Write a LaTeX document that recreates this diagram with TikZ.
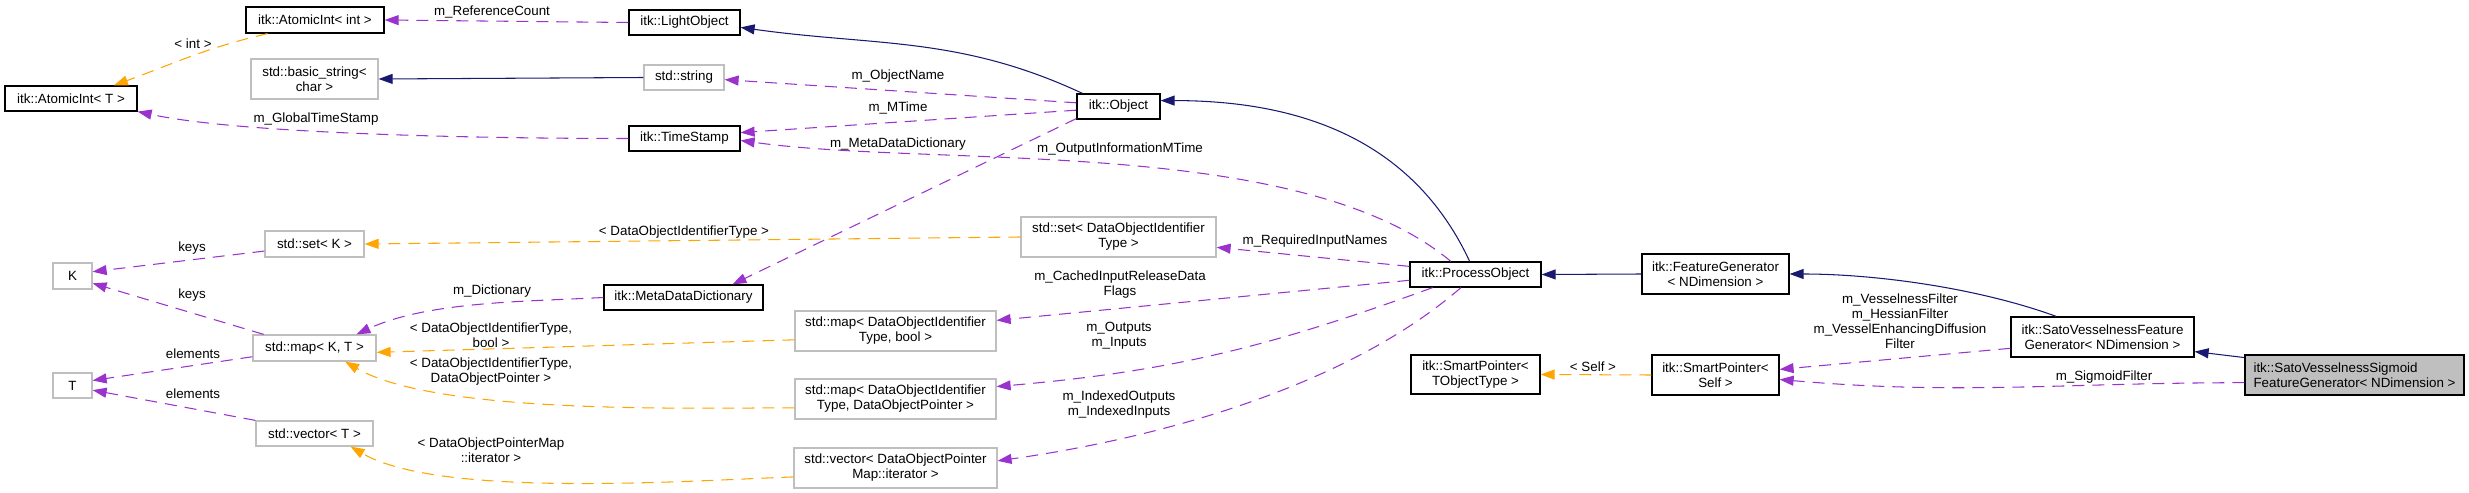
\documentclass[tikz,border=0pt]{standalone}
\usepackage{fontspec}
\setmainfont{Liberation Sans}
\usepackage{tikz}
\usetikzlibrary{
  arrows.meta % Triangle 箭头
}
\definecolor{dxnavy}{HTML}{191970}
\definecolor{dxpurple}{HTML}{9A32CD}
\definecolor{dxorange}{HTML}{FFA500}
\definecolor{dxgray}{HTML}{BFBFBF}
\newcommand{\dxfont}{\fontsize{7.6}{8.5}\selectfont}
\tikzset{
  cls/.style={
    draw=black,
    line width=0.7pt,
    inner sep=0pt,
    align=center,
    font=\dxfont
  },
  extcls/.style={cls, draw=dxgray},
  curcls/.style={cls, fill=dxgray, align=left},
  box/.style 2 args={minimum width=#1*0.2mm, minimum height=#2*0.2mm},
  lbl/.style={inner sep=0pt, align=center, font=\dxfont},
  inherit/.style={
    draw=dxnavy,
    line width=0.6pt,
    -{Triangle[length=2.8mm, width=2mm]}
  },
  member/.style={
    draw=dxpurple,
    line width=0.6pt,
    dash pattern=on 2.4mm off 1.6mm,
    -{Triangle[length=2.8mm, width=2mm]}
  },
  tmpl/.style={
    draw=dxorange,
    line width=0.6pt,
    dash pattern=on 2.4mm off 1.6mm,
    -{Triangle[length=2.8mm, width=2mm]}
  }
}

\begin{document}
\begin{tikzpicture}[x=0.2mm, y=-0.2mm]
    \useasboundingbox (0,0) rectangle (2469,493);

    % --- 左侧：模板参数与 std 容器 ---
    \node[cls, box={138}{26}] (aiint) at (315,20) {itk::AtomicInt< int >};
    \node[cls, box={132}{25}] (ait) at (71,98.5) {itk::AtomicInt< T >};
    \node[extcls, box={127}{40}] (bstr) at (314.5,79) {std::basic\_string<\\char >};
    \node[extcls, box={99}{26}] (setk) at (314.5,244) {std::set< K >};
    \node[extcls, box={39}{26}] (kparam) at (72.5,276) {K};
    \node[extcls, box={123}{26}] (mapkt) at (314.5,348) {std::map< K, T >};
    \node[extcls, box={39}{25}] (tparam) at (72.5,385.5) {T};
    \node[extcls, box={117}{25}] (vect) at (314.5,433.5) {std::vector< T >};

    % --- 中间：itk 基类与成员类型 ---
    \node[cls, box={111}{25}] (lobj) at (684.5,22.5) {itk::LightObject};
    \node[extcls, box={80}{25}] (str) at (684,77.5) {std::string};
    \node[cls, box={111}{25}] (ts) at (684.5,138.5) {itk::TimeStamp};
    \node[cls, box={159}{25}] (mdd) at (683.5,297.5) {itk::MetaDataDictionary};
    \node[extcls, box={201}{40}] (mapbool) at (895.5,331) {std::map< DataObjectIdentifier\\Type, bool >};
    \node[extcls, box={201}{40}] (mapdop) at (895.5,399) {std::map< DataObjectIdentifier\\Type, DataObjectPointer >};
    \node[extcls, box={203}{40}] (veciter) at (895.5,468) {std::vector< DataObjectPointer\\Map::iterator >};
    \node[cls, box={83}{25}] (obj) at (1118.5,106.5) {itk::Object};
    \node[extcls, box={195}{40}] (setdoit) at (1118.5,237) {std::set< DataObjectIdentifier\\Type >};

    % --- 右侧：ProcessObject 到 Sigmoid 生成器 ---
    \node[cls, box={131}{25}] (po) at (1475.5,274.5) {itk::ProcessObject};
    \node[cls, box={129}{39}] (sptot) at (1475.5,374.5) {itk::SmartPointer<\\TObjectType >};
    \node[cls, box={147}{40}] (fg) at (1715.5,274) {itk::FeatureGenerator\\< NDimension >};
    \node[cls, box={127}{40}] (spself) at (1715.5,375) {itk::SmartPointer<\\Self >};
    \node[cls, box={183}{40}] (svfg) at (2102.5,337) {itk::SatoVesselnessFeature\\Generator< NDimension >};
    \node[curcls, box={219}{40}] (svsfg) at (2354.5,375) {itk::SatoVesselnessSigmoid\\FeatureGenerator< NDimension >};

    % 继承 (实线)
    \draw[inherit] (str.west) -- (bstr.east);
    \draw[inherit] (obj.160) to[out=155, in=-8] (lobj.-5);
    \draw[inherit] (po.114) to[out=115, in=0] (obj.8);
    \draw[inherit] (fg.west) -- (po.east);
    \draw[inherit] (svfg.156) to[out=160, in=0, looseness=.8] (fg.east);
    \draw[inherit] (svsfg.171) -- (svfg.-9);

    % 成员 (紫色虚线)
    \draw[member] (lobj.west) -- (aiint.east);
    \draw[member] (ts.west) to[out=180, in=-12, looseness=.6] (ait.south east);
    \draw[member] (obj.175) -- (str.-3);
    \draw[member] (obj.185) -- (ts.6);
    \draw[member] (obj.196) -- (mdd.15);
    \draw[member] (po.152) to[out=140, in=-8, looseness=.7] (ts.-2);
    \draw[member] (po.173) -- (setdoit.-6);
    \draw[member] (po.185) -- (mapbool.6);
    \draw[member] (po.197) to[out=200, in=5] (mapdop.7);
    \draw[member] (po.222) to[out=221, in=8, looseness=.8] (veciter.4);
    \draw[member] (setk.188) -- (kparam.12);
    \draw[member] (mapkt.165) -- (kparam.-20);
    \draw[member] (mapkt.188) -- (tparam.14);
    \draw[member] (vect.north west) -- (tparam.-13);
    \draw[member] (mdd.west) to[out=183, in=25, looseness=.8] (mapkt.18);
    \draw[member] (svfg.187) -- (spself.5);
    \draw[member] (svsfg.184) to[out=180, in=-5] (spself.-4);

    % 模板实例化 (橙色虚线)
    \draw[tmpl] (aiint.196) to[out=193, in=20] (ait.17);
    \draw[tmpl] (setdoit.west) -- (setk.east);
    \draw[tmpl] (mapbool.185) -- (mapkt.-4);
    \draw[tmpl] (mapdop.185) to[out=180, in=-30, looseness=.6] (mapkt.-24);
    \draw[tmpl] (veciter.185) to[out=182, in=-30, looseness=.6] (vect.-20);
    \draw[tmpl] (spself.west) -- (sptot.east);

    % 边上的文字
    \node[lbl] (lRefCnt) at (492,12) {m\_ReferenceCount};
    \node[lbl] (lInt) at (193,44) {< int >};
    \node[lbl] (lGTS) at (316,119) {m\_GlobalTimeStamp};
    \node[lbl] (lObjName) at (898,76) {m\_ObjectName};
    \node[lbl] (lMTime) at (898,108) {m\_MTime};
    \node[lbl] (lMDD) at (898,144) {m\_MetaDataDictionary};
    \node[lbl] (lOIMT) at (1120,149) {m\_OutputInformationMTime};
    \node[lbl] (lKeys1) at (192,248) {keys};
    \node[lbl] (lKeys2) at (192,295) {keys};
    \node[lbl] (lElem1) at (193,354) {elements};
    \node[lbl] (lElem2) at (193,394) {elements};
    \node[lbl] (lDict) at (492,291) {m\_Dictionary};
    \node[lbl] (lDOIT) at (684,232) {< DataObjectIdentifierType >};
    \node[lbl] (lDOITb) at (491,335.5) {< DataObjectIdentifierType,\\bool >};
    \node[lbl] (lDOITp) at (491,371.5) {< DataObjectIdentifierType,\\DataObjectPointer >};
    \node[lbl] (lDOPM) at (491,450.5) {< DataObjectPointerMap\\::iterator >};
    \node[lbl] (lReqIn) at (1315,241) {m\_RequiredInputNames};
    \node[lbl] (lCached) at (1120,284.5) {m\_CachedInputReleaseData\\Flags};
    \node[lbl] (lOutIn) at (1119,335.5) {m\_Outputs\\m\_Inputs};
    \node[lbl] (lIdx) at (1119,405) {m\_IndexedOutputs\\m\_IndexedInputs};
    \node[lbl] (lSelf) at (1593,367) {< Self >};
    \node[lbl] (lVess) at (1900,321.5) {m\_VesselnessFilter\\m\_HessianFilter\\m\_VesselEnhancingDiffusion\\Filter};
    \node[lbl] (lSigm) at (2104,377) {m\_SigmoidFilter};

\end{tikzpicture}
\end{document}
